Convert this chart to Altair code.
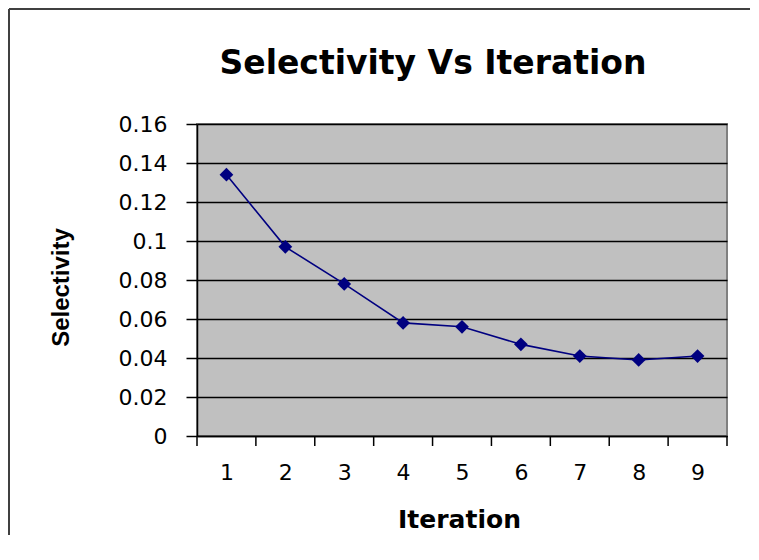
import altair as alt
import pandas as pd

iterations = [1, 2, 3, 4, 5, 6, 7, 8, 9]
selectivity = [0.134, 0.097, 0.078, 0.058, 0.056, 0.047, 0.041, 0.039, 0.041]
y_ticks = [0, 0.02, 0.04, 0.06, 0.08, 0.1, 0.12, 0.14, 0.16]
title_text = "Selectivity Vs Iteration"
x_title = "Iteration"
y_title = "Selectivity"

W, H = 530, 312
NAVY = "#000080"

df = pd.DataFrame({"Iteration": iterations, "Selectivity": selectivity})
bounds = pd.DataFrame({"Iteration": [i - 0.5 for i in iterations] + [iterations[-1] + 0.5]})
one = pd.DataFrame({"t": [title_text]})

x_scale = alt.Scale(domain=[iterations[0] - 0.5, iterations[-1] + 0.5], nice=False, zero=False)
y_scale = alt.Scale(domain=[y_ticks[0], y_ticks[-1]], nice=False, zero=True)

x_axis = alt.Axis(
    values=iterations, format="d", ticks=False, tickSize=0, grid=False,
    labelPadding=26, labelFont="DejaVu Sans", labelFontSize=22, labelColor="black",
    labelFlush=False, labelOverlap=False,
    domainColor="black", domainWidth=1.5,
    title=x_title, titleFont="DejaVu Sans", titleFontSize=25, titleFontWeight="bold",
    titleColor="black", titleX=262, titleY=91, titleBaseline="alphabetic", titleAlign="center",
)
x_enc = alt.X("Iteration:Q", scale=x_scale, axis=x_axis)
y_enc = alt.Y(
    "Selectivity:Q",
    scale=y_scale,
    axis=alt.Axis(
        values=y_ticks, format="~g", tickSize=11, tickColor="black", tickWidth=1.5,
        grid=True, gridColor="black", gridWidth=1.5, gridOpacity=1,
        labelPadding=19, labelFont="DejaVu Sans", labelFontSize=22, labelColor="black",
        labelFlush=False, labelOverlap=False,
        domainColor="black", domainWidth=1.5,
        title=y_title, titleFont="Liberation Sans", titleFontSize=24, titleFontWeight="bold",
        titleColor="black", titleAngle=270, titleX=-129, titleY=163,
        titleBaseline="alphabetic", titleAlign="center",
    ),
)

line = alt.Chart(df).mark_line(color=NAVY, strokeWidth=1.6).encode(x=x_enc, y=y_enc)
points = alt.Chart(df).mark_point(shape="diamond", filled=True, size=190, color=NAVY, opacity=1).encode(
    x=x_enc, y=y_enc
)

ticks = alt.Chart(bounds).mark_rule(color="black", strokeWidth=1.5).encode(
    x=x_enc,
    y=alt.value(H),
    y2=alt.value(H + 10),
)

border_top = alt.Chart(one).mark_rule(color="#404040", strokeWidth=2).encode(
    x=alt.value(-188), x2=alt.value(553), y=alt.value(-115)
)
border_left = alt.Chart(one).mark_rule(color="#404040", strokeWidth=2).encode(
    x=alt.value(-188), y=alt.value(-115), y2=alt.value(411)
)

title = alt.Chart(one).mark_text(
    font="DejaVu Sans", fontSize=33, fontWeight="bold", align="center",
    baseline="alphabetic", color="black",
).encode(x=alt.value(236), y=alt.value(-50), text="t:N")

chart = (
    alt.layer(border_top, border_left, title, ticks, line, points)
    .properties(width=W, height=H, padding=0)
    .configure_view(fill="#C0C0C0", stroke="#808080", strokeWidth=2)
)

chart.save("out.html", embed_options={"renderer": "svg", "actions": False})
